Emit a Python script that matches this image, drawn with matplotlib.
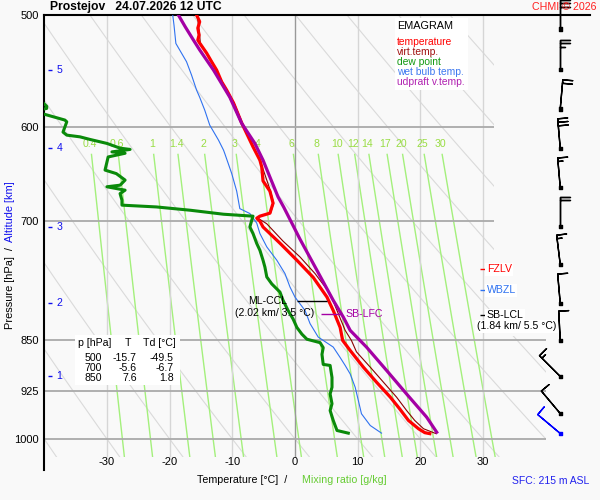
import numpy as np
import matplotlib.pyplot as plt
from matplotlib.patches import Polygon, Rectangle
from matplotlib.ticker import NullLocator

plt.rcParams['font.family'] = ['Liberation Sans', 'DejaVu Sans']

W, H = 600, 500

# sounding values (p in hPa, t in degC)
temp_p = [500, 505.5, 510.8, 516.6, 520.9, 523.5, 532.1, 539.7, 547.1, 557.7, 565.3, 577.4,
          596.6, 620.2, 633.9, 641.2, 655.8, 666.9, 680.1, 691.3, 694.7, 697.0, 700.4, 707.1,
          726.1, 746.6, 767.8, 793.0, 810.6, 833.3, 851.2, 865.3, 889.2, 911.3, 933.9, 952.0,
          970.2, 983.4, 989.7, 991.3]
temp_t = [-15.7, -15.2, -15.5, -15.3, -15.5, -15.2, -14.1, -13.3, -12.5, -11.7, -10.9, -9.8,
          -8.5, -6.7, -5.6, -5.3, -5.1, -4.0, -3.5, -4.0, -5.6, -6.1, -5.6, -5.1,
          -2.4, 0.3, 2.9, 5.1, 6.1, 7.2, 7.6, 8.8, 10.9, 13.0, 15.2, 16.7,
          18.1, 19.7, 20.7, 21.5]

virt_p = [500, 516.6, 523.5, 539.7, 557.7, 577.4, 596.6, 620.2, 641.2, 666.9, 680.1, 691.3,
          694.7, 697.0, 703.4, 723.7, 742.6, 763.1, 788.5, 810.6, 837.3, 851.2, 867.2, 889.2,
          911.3, 933.9, 954.5, 970.2, 983.4, 991.3]
virt_t = [-15.6, -15.2, -15.1, -13.2, -11.6, -9.7, -8.4, -6.6, -5.2, -3.9, -3.4, -3.9,
          -5.5, -5.9, -4.5, -1.9, 0.8, 3.2, 5.6, 6.7, 8.0, 9.0, 9.8, 12.0,
          14.1, 16.2, 17.8, 19.1, 20.5, 22.5]

dew_p = [500, 545, 580.5, 582.5, 585, 588.2, 590.6, 593.7, 595.4, 605.5, 608.5, 610.2, 612.8,
         616.8, 621.6, 622.9, 625.4, 626.8, 630.6, 644.3, 648.0, 654.9, 660.4, 662.1, 665.8,
         669.5, 676.8, 682.3, 684.3, 688.0, 692.5, 694.7, 699.3, 707.1, 714.6, 726.5, 734.5,
         746.6, 755.0, 767.3, 776.1, 786.5, 797.3, 810.6, 822.0, 833.3, 842.5, 849.5, 854.3,
         861.3, 870.8, 885.2, 886.7, 904.3, 918.9, 929.0, 944.0, 954.5, 970.2, 986.2, 990.5]
dew_t = [-49.5, -46.0, -39.6, -39.6, -41.5, -39.9, -38.5, -36.7, -36.4, -37.0, -36.4, -34.3, -32.7,
         -30.0, -27.9, -26.3, -29.2, -27.1, -29.8, -30.3, -28.5, -27.1, -27.9, -30.0, -27.1,
         -27.9, -27.6, -27.6, -22.1, -16.7, -11.4, -6.7, -6.9, -7.2, -6.7, -6.1, -5.6,
         -5.1, -4.8, -4.5, -3.7, -2.4, -1.9, -1.1, -0.3, 0.3, 1.1, 1.9, 4.0,
         4.5, 4.3, 4.5, 5.6, 5.9, 5.9, 5.6, 5.9, 5.6, 6.1, 6.7, 8.5]

wet_p = [500, 508.3, 523.8, 539.7, 551.6, 565.3, 572.0, 584.1, 598.6, 613.5, 623.6, 627.1,
         647.8, 666.9, 686.2, 691.7, 702.7, 714.7, 730.5, 746.6, 763.1, 780.0, 793.0, 810.6,
         828.1, 846.5, 860.5, 875.3, 886.7, 899.1, 919.0, 939.0, 959.6, 978.2, 990.5]
wet_t = [-19.5, -19.3, -19.0, -17.3, -16.5, -15.7, -15.2, -14.4, -13.6, -12.2, -11.4, -11.2,
         -10.1, -9.3, -8.8, -7.2, -6.1, -5.6, -4.5, -2.9, -1.6, -0.8, 0.0, 1.6,
         2.4, 3.7, 6.1, 7.2, 8.0, 8.8, 9.6, 10.1, 10.6, 12.0, 13.8]

parcel_p = [500, 509.8, 520.9, 529.4, 547.1, 571.9, 596.9, 616.8, 633.9, 651.7, 673.2, 684.5,
            721.4, 759.0, 797.2, 819.3, 837.3, 860.5, 893.9, 929.1, 965.0, 989.0]
parcel_t = [-18.6, -17.5, -16.2, -15.2, -13.0, -10.4, -8.5, -6.4, -5.1, -4.0, -2.7, -1.8,
            0.8, 3.5, 6.1, 7.7, 8.8, 11.4, 14.6, 17.8, 21.0, 22.6]

# wind (direction deg, speed kt)
wind_p = [511.6, 546.2, 583.1, 621.5, 662.6, 706.2, 751.6, 801.1, 851.2, 902.8, 959.2, 991.0]
wind_dir = [0, 0, 5, 355, 355, 0, 353, 355, 357, 315, 320, 310]
wind_kt = [30, 25, 20, 30, 15, 20, 15, 10, 10, 15, 10, 10]

# axis furniture
p_ticks = [500, 600, 700, 850, 925, 1000]
t_ticks = [-30, -20, -10, 0, 10, 20, 30]
mix_vals = [0.4, 0.6, 1, 1.4, 2, 3, 4, 6, 8, 10, 12, 14, 17, 20, 25, 30]
alt_km = [1, 2, 3, 4, 5]
alt_p = [902.8, 801.1, 707.3, 621.5, 547.1]

tab_p = [500, 700, 850]
tab_t = [-15.7, -5.6, 7.6]
tab_td = [-49.5, -6.7, 1.8]

fig = plt.figure(figsize=(6, 5), dpi=100, facecolor='#f9f9f9')
ax = fig.add_axes([44.2 / W, 30 / H, 545.5 / W, 455 / H])
ax.set_facecolor('none')
ax.set_yscale('log')
ax.set_xlim(-40, 47)
ax.set_ylim(1052, 500)


def ftext(x, y, s, **kw):
    kw.setdefault('va', 'center')
    kw.setdefault('size', 7.6)
    return fig.text(x / W, 1 - y / H, s, **kw)


clip = Polygon([(-40, 500), (31.7, 500), (31.7, 845), (40, 845), (40, 1030), (-40, 1030)],
               closed=True, transform=ax.transData, facecolor='none', edgecolor='none')

# dry adiabats
pp = np.linspace(500, 1030, 200)
for th in range(-60, 160, 10):
    t = (th + 273.15) * (pp / 1000.0) ** 0.286 - 273.15
    ln, = ax.plot(t, pp, color='#dadada', lw=0.8, zorder=1)
    ln.set_clip_path(clip)

# mixing ratio lines
pm = np.linspace(628, 1030, 100)
for w in mix_vals:
    a = np.log(w * pm / (622 + w) / 6.112)
    t = 243.5 * a / (17.67 - a)
    ln, = ax.plot(t, pm, color='#a4f07c', lw=1.0, zorder=1)
    ln.set_clip_path(clip)
    a0 = np.log(w * 617 / (622 + w) / 6.112)
    ax.text(243.5 * a0 / (17.67 - a0), 617, f'{w:g}', color='#99dd44', size=7.6,
            ha='center', va='center', zorder=2)

# isotherms and isobars
ax.vlines([t for t in t_ticks if t != 0], 500, 1030, colors='#d6d6d6', lw=1.0, zorder=1)
ax.vlines(0, 500, 1030, colors='#999999', lw=1.0, zorder=1)
ax.hlines([600, 700], -40, 31.7, colors='#aaaaaa', lw=1.3, zorder=1)
ax.hlines([850, 925, 1000], -40, 40, colors='#aaaaaa', lw=1.3, zorder=1)

# profiles
ax.plot(wet_t, wet_p, color='#2f72f0', lw=0.8, zorder=3)
ax.plot(dew_t, dew_p, color='#0a8a0a', lw=2.2, zorder=3)
ax.plot(virt_t, virt_p, color='#8b0000', lw=0.8, zorder=3)
ax.plot(temp_t, temp_p, color='#ff0000', lw=2.3, zorder=4)
ax.plot(parcel_t, parcel_p, color='#a400a4', lw=2.3, zorder=4)

# spines / ticks
for s in ('right', 'bottom'):
    ax.spines[s].set_visible(False)
for s in ('left', 'top'):
    ax.spines[s].set_linewidth(1.5)
ax.set_yticks(p_ticks)
ax.set_yticklabels([str(p) for p in p_ticks])
ax.yaxis.set_minor_locator(NullLocator())
ax.set_xticks([])
ax.tick_params(axis='y', length=0, pad=4, labelsize=8)
for t in t_ticks:
    ax.text(t, 1039, str(t), ha='center', va='center', size=8, zorder=2)

# altitude marks
ax.hlines(alt_p, -39.45, -38.7, colors='#1010ee', lw=1.0, clip_on=False)
for km, p in zip(alt_km, alt_p):
    ax.text(-37.6, p, str(km), color='#1010ee', size=7.6, ha='center', va='center')

# level annotations
ax.hlines(798.5, 0.3, 5.1, colors='black', lw=1.0, zorder=5)
ax.text(-4.3, 798.5, 'ML-CCL', size=7.6, ha='center', va='center', zorder=5)
ax.text(-3.3, 813.6, '(2.02 km/ 3.5 °C)', size=7.6, ha='center', va='center', zorder=5)
ax.hlines(815.7, 4.1, 7.5, colors='#a400a4', lw=1.0, zorder=5)
ax.text(8.1, 815.7, 'SB-LFC', color='#a400a4', size=7.6, ha='left', va='center', zorder=5)

box = dict(facecolor='white', edgecolor='none', pad=1.0)
for p, lab, col in [(757.7, 'FZLV', '#ff0000'), (784.2, 'WBZL', '#2f72f0'), (817.0, 'SB-LCL', 'black')]:
    ax.hlines(p, 29.5, 30.3, colors=col, lw=1.0, zorder=5)
    ax.text(30.6, p, lab, color=col, size=7.6, ha='left', va='center', bbox=box, zorder=5)
ax.text(29.0, 831.9, '(1.84 km/ 5.5 °C)', size=7.6, ha='left', va='center', bbox=box, zorder=5)

# wind barbs
wd = np.deg2rad(wind_dir)
u = -np.array(wind_kt) * np.sin(wd)
v = -np.array(wind_kt) * np.cos(wd)
bx = np.full(len(wind_p), 42.3)
cols = ['black'] * (len(wind_p) - 1) + ['#0000ff']
ax.barbs(bx, wind_p, u, v, length=6.5, pivot='tip',
         sizes=dict(width=0, spacing=0.12, height=0.34),
         barbcolor=cols, flagcolor=cols, linewidth=1.0, clip_on=False, zorder=6)
ax.scatter(bx, wind_p, marker='s', s=5, c=cols, clip_on=False, zorder=7)

# figure texts
ftext(50, 7, 'Prostejov   24.07.2026 12 UTC', weight='bold', size=8.7)
ftext(597, 7, 'CHMI © 2026', color='#ff2020', ha='right', size=7.7)

fig.add_artist(Rectangle((395 / W, 1 - 90 / H), 73 / W, 72 / H, transform=fig.transFigure,
                         facecolor='white', edgecolor='none', zorder=2))
ftext(397, 26, 'EMAGRAM', size=7.8)
legend_items = [('temperature', '#ff0000'), ('virt.temp.', '#a01010'), ('dew point', '#119911'),
                ('wet bulb temp.', '#3c78f0'), ('udpraft v.temp.', '#b020b0')]
for i, (lab, col) in enumerate(legend_items):
    ftext(397, 42 + 10 * i, lab, color=col, size=7.4)

fig.add_artist(Rectangle((75 / W, 1 - 385 / H), 105 / W, 50 / H, transform=fig.transFigure,
                         facecolor='white', edgecolor='none', zorder=2))
ftext(78, 343, 'p [hPa]')
ftext(128, 343, 'T', ha='center')
ftext(143, 343, 'Td [°C]')
for i, (p, t, td) in enumerate(zip(tab_p, tab_t, tab_td)):
    y = 358 + 10 * i
    ftext(102, y, str(p), ha='right')
    ftext(137, y, f'{t:.1f}', ha='right')
    ftext(174, y, f'{td:.1f}', ha='right')

ftext(197, 480, 'Temperature [°C]  /', size=7.7)
ftext(302, 480, 'Mixing ratio [g/kg]', color='#66cc33', size=7.7)
ftext(512, 481, 'SFC: 215 m ASL', color='#2222ee', size=7.5)
ftext(10, 288, 'Pressure [hPa]  /', rotation=90, ha='center', size=7.9)
ftext(10, 212, 'Altitude [km]', rotation=90, ha='center', color='#1010ee', size=7.9)

fig.savefig('out.png', dpi=100, facecolor=fig.get_facecolor())
